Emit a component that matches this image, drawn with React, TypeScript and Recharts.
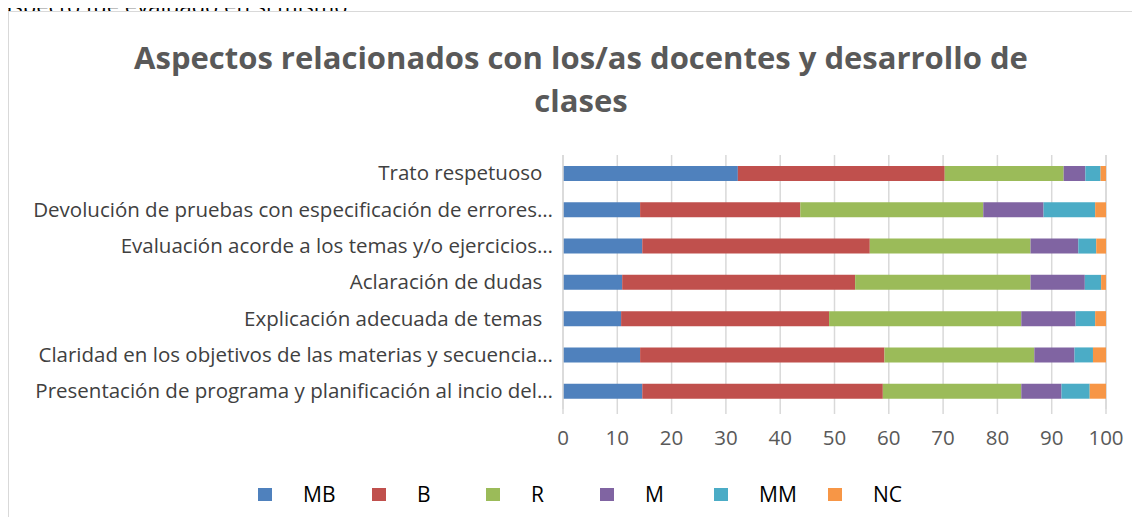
import React from "react"
import { BarChart, Bar, XAxis, YAxis, CartesianGrid } from "recharts"

const aspects = [
  "Trato respetuoso\u00a0\u00a0",
  "Devolución de pruebas con especificación de errores…",
  "Evaluación acorde a los temas y/o ejercicios…",
  "Aclaración de dudas\u00a0\u00a0",
  "Explicación adecuada de temas\u00a0\u00a0",
  "Claridad en los objetivos de las materias y secuencia…",
  "Presentación de programa y planificación al incio del…",
]

const mb = [32.2, 14.2, 14.6, 10.9, 10.7, 14.2, 14.6]
const b = [38.1, 29.5, 41.9, 42.9, 38.3, 45.0, 44.3]
const r = [21.9, 33.7, 29.6, 32.3, 35.4, 27.6, 25.5]
const m = [4.0, 11.1, 8.8, 10.0, 10.0, 7.4, 7.4]
const mm = [2.8, 9.5, 3.3, 3.0, 3.6, 3.4, 5.2]
const nc = [1.0, 2.0, 1.8, 0.9, 2.0, 2.4, 3.0]

const xTicks = [0, 10, 20, 30, 40, 50, 60, 70, 80, 90, 100]

const series = [
  { key: "MB", color: "#4f81bd" },
  { key: "B", color: "#c0504d" },
  { key: "R", color: "#9bbb59" },
  { key: "M", color: "#8064a2" },
  { key: "MM", color: "#4bacc6" },
  { key: "NC", color: "#f79646" },
]

const data = aspects.map((name, i) => ({
  name,
  MB: mb[i],
  B: b[i],
  R: r[i],
  M: m[i],
  MM: mm[i],
  NC: nc[i],
}))

const font = "'Open Sans', sans-serif"

const LegendBox = () => (
  <div style={{ display: "flex", paddingLeft: 258, fontFamily: font }}>
    {series.map((s) => (
      <div key={s.key} style={{ width: 114, display: "flex", alignItems: "center" }}>
        <span style={{ width: 14, height: 13, background: s.color, display: "inline-block" }} />
        <span style={{ marginLeft: 31, fontSize: 21, color: "#000" }}>{s.key}</span>
      </div>
    ))}
  </div>
)

export default function App() {
  return (
    <div style={{ position: "relative", width: 1140, height: 525, margin: -8, overflow: "hidden", background: "#fff" }}>
      <div
        style={{
          position: "absolute",
          top: -6,
          left: 0,
          fontFamily: font,
          fontSize: 22,
          lineHeight: "22px",
          color: "#000",
          whiteSpace: "nowrap",
        }}
      >
        aspecto fue evaluado en sí mismo.
      </div>
      <div
        style={{
          position: "absolute",
          left: 8,
          top: 11,
          width: 1160,
          height: 540,
          border: "1.5px solid #d9d9d9",
          background: "#fff",
        }}
      />
      <div
        style={{
          position: "absolute",
          top: 36,
          left: 81,
          width: 1000,
          textAlign: "center",
          fontFamily: font,
          fontWeight: 700,
          fontSize: 31,
          lineHeight: "43px",
          color: "#595959",
        }}
      >
        Aspectos relacionados con los/as docentes y desarrollo de
        <br />
        clases
      </div>
      <div style={{ position: "absolute", left: 0, top: 0 }}>
        <BarChart
          width={1140}
          height={525}
          data={data}
          layout="vertical"
          margin={{ top: 155, right: 34, bottom: 86, left: 0 }}
          barSize={15}
        >
          <CartesianGrid horizontal={false} stroke="#d9d9d9" strokeWidth={1.5} />
          <XAxis
            type="number"
            domain={[0, 100]}
            ticks={xTicks}
            axisLine={false}
            tickLine={{ stroke: "#d9d9d9", strokeWidth: 1.5 }}
            tickSize={5}
            tickMargin={16}
            tick={{ fill: "#595959", fontSize: 20.5, fontFamily: font }}
            interval={0}
          />
          <YAxis
            type="category"
            dataKey="name"
            width={563}
            axisLine={{ stroke: "#d9d9d9", strokeWidth: 1.5 }}
            tickLine={false}
            tickMargin={4}
            tick={{ fill: "#404040", fontSize: 20.5, fontFamily: font }}
            interval={0}
          />
          {series.map((s) => (
            <Bar key={s.key} dataKey={s.key} stackId="a" fill={s.color} isAnimationActive={false} />
          ))}
        </BarChart>
      </div>
      <div style={{ position: "absolute", left: 0, top: 480, width: 1140 }}>
        <LegendBox />
      </div>
    </div>
  )
}
